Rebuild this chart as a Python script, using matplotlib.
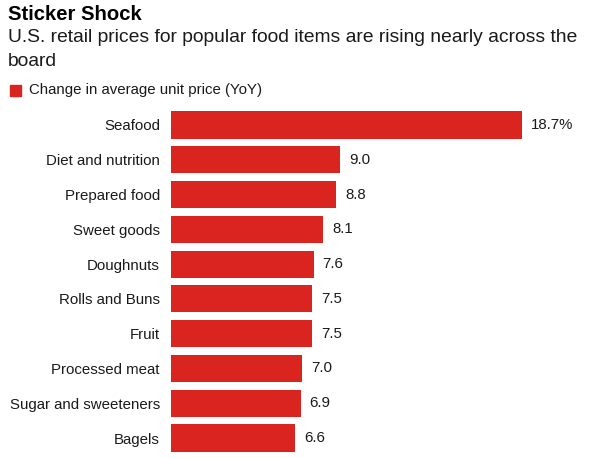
import matplotlib.pyplot as plt
from matplotlib.patches import Rectangle

plt.rcParams["font.family"] = ["Liberation Sans", "DejaVu Sans"]

categories = [
    "Seafood",
    "Diet and nutrition",
    "Prepared food",
    "Sweet goods",
    "Doughnuts",
    "Rolls and Buns",
    "Fruit",
    "Processed meat",
    "Sugar and sweeteners",
    "Bagels",
]
values = [18.7, 9.0, 8.8, 8.1, 7.6, 7.5, 7.5, 7.0, 6.9, 6.6]
value_labels = ["18.7%", "9.0", "8.8", "8.1", "7.6", "7.5", "7.5", "7.0", "6.9", "6.6"]

RED = "#da241f"
TEXT = "#1a1a1a"

W, H = 590, 458
fig = plt.figure(figsize=(W / 100, H / 100), dpi=100)
ax = fig.add_axes([171 / W, 1 - 455.4 / H, (585 - 171) / W, (455.4 - 107.6) / H])

y = list(range(len(categories)))
ax.barh(y, values, height=0.78, color=RED, edgecolor="none")
ax.set_ylim(len(categories) - 0.5, -0.5)
ax.set_xlim(0, (585 - 171) / (351 / 18.7))

for yi, v, lab in zip(y, values, value_labels):
    ax.annotate(lab, (v, yi), xytext=(6.5, 0), textcoords="offset points",
                va="center", ha="left", fontsize=10.8, color=TEXT)

ax.set_yticks(y)
ax.set_yticklabels(categories, fontsize=10.8, color=TEXT)
ax.tick_params(axis="y", length=0, pad=8)
ax.set_xticks([])
for s in ax.spines.values():
    s.set_visible(False)

fig.text(8 / W, 1 - 14 / H, "Sticker Shock", fontsize=14.6, fontweight="bold",
         color="black", va="center", ha="left")
fig.text(8 / W, 1 - 38 / H, "U.S. retail prices for popular food items are rising nearly across the",
         fontsize=13.9, color=TEXT, va="center", ha="left")
fig.text(8 / W, 1 - 62 / H, "board", fontsize=13.9, color=TEXT, va="center", ha="left")
fig.patches.append(Rectangle((10 / W, 1 - 96 / H), 11 / W, 11 / H,
                             transform=fig.transFigure, color=RED, figure=fig))
fig.text(29 / W, 1 - 90 / H, "Change in average unit price (YoY)", fontsize=10.8,
         color=TEXT, va="center", ha="left")

fig.savefig("out.png", dpi=100)
